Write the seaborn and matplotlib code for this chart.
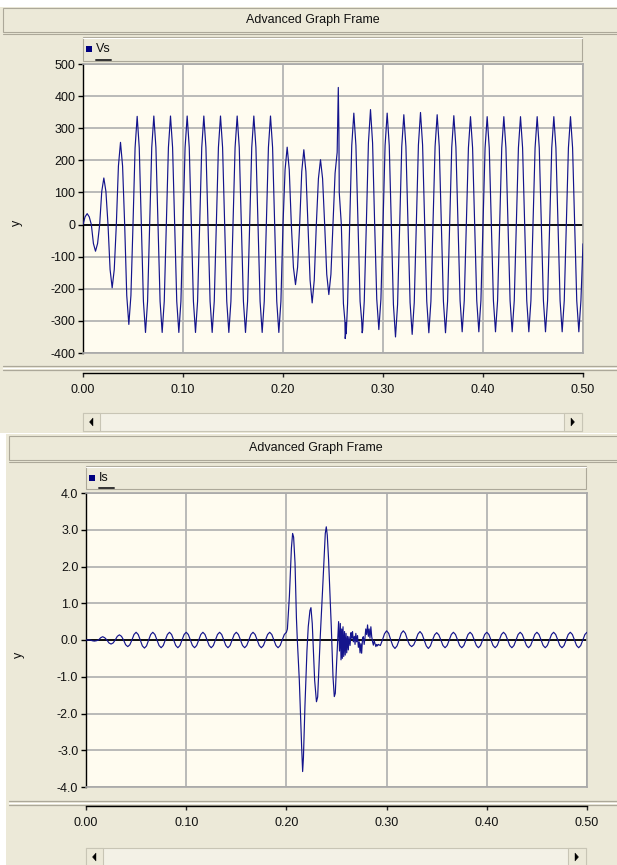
import numpy as np
import pandas as pd
import matplotlib
matplotlib.use("Agg")
import matplotlib.pyplot as plt
import seaborn as sns
from matplotlib.patches import Rectangle, Polygon
from matplotlib.lines import Line2D
from matplotlib import font_manager

# ---------------- data ----------------
SAMPLE_DT = 1 / 480.0          # eighth of a 60 Hz period

# Vs: samples on a regular 1/480 s grid, t = 0 ... 0.5 s
vs_grid = [
    0, 24, 34, 24,
    0, -59, -83, -59,
    0, 103, 145, 103,
    0, -140, -197, -140,
    0, 182, 256, 182,
    0, -221, -311, -221,
    0, 239, 337, 239,
    0, -239, -336, -239,
    0, 240, 338, 240,
    0, -239, -336, -239,
    0, 240, 338, 240,
    0, -239, -336, -239,
    0, 240, 338, 240,
    0, -239, -336, -239,
    0, 240, 338, 240,
    0, -239, -336, -239,
    0, 240, 338, 240,
    0, -239, -336, -239,
    0, 240, 338, 240,
    0, -239, -336, -239,
    0, 240, 338, 240,
    0, -239, -336, -239,
    0, 240, 338, 240,
    0, -239, -336, -239,
    0, 171, 241, 171,
    0, -133, -187, -133,
    0, 165, 233, 165,
    0, -173, -244, -173,
    0, 143, 202, 143,
    0, -155, -218, -155,
    0, 160, 225, 100,
    0, -246, -347, -246,
    0, 246, 347, 246,
    0, -239, -337, -239,
    0, 254, 358, 254,
    0, -232, -327, -232,
    0, 246, 347, 246,
    0, -249, -350, -249,
    0, 243, 342, 243,
    0, -243, -342, -243,
    0, 248, 349, 248,
    0, -239, -337, -239,
    0, 243, 342, 243,
    0, -239, -337, -239,
    0, 241, 339, 241,
    0, -237, -334, -237,
    0, 239, 336, 239,
    0, -237, -334, -237,
    0, 239, 336, 239,
    0, -237, -334, -237,
    0, 239, 336, 239,
    0, -237, -334, -237,
    0, 239, 336, 239,
    0, -237, -334, -237,
    0, 239, 336, 239,
    0, -237, -334, -237,
    0, 239, 336, 239,
    0, -237, -334, -237,
    0, 239, 336, 239,
    0, -237, -334, -237,
    -60,
]
# Vs extra points (switching spike and notches)
vs_extra_t = [0.2547, 0.2553, 0.2559, 0.2619, 0.2622, 0.2629, 0.2632, 0.2787, 0.2796]
vs_extra_v = [330, 427, 290, -300, -355, -305, -340, -300, -330]

# Is before the fault: grid samples n = 0 ... 95
is_pre = [
    0, 0, 0, -0.02,
    -0.03, -0.02, 0, 0.06,
    0.09, 0.06, 0, -0.08,
    -0.11, -0.08, 0, 0.10,
    0.14, 0.10, 0, -0.13,
    -0.18, -0.13, 0, 0.15,
    0.21, 0.15, 0, -0.16,
    -0.22, -0.16, 0, 0.15,
    0.21, 0.15, 0, -0.15,
    -0.21, -0.15, 0, 0.15,
    0.21, 0.15, 0, -0.15,
    -0.21, -0.15, 0, 0.15,
    0.21, 0.15, 0, -0.15,
    -0.21, -0.15, 0, 0.15,
    0.21, 0.15, 0, -0.15,
    -0.21, -0.15, 0, 0.15,
    0.21, 0.15, 0, -0.15,
    -0.21, -0.15, 0, 0.15,
    0.21, 0.15, 0, -0.15,
    -0.21, -0.15, 0, 0.15,
    0.21, 0.15, 0, -0.15,
    -0.21, -0.15, 0, 0.15,
    0.21, 0.15, 0, -0.15,
    -0.21, -0.15, 0, 0.15,
]
# Is during the transient (explicit time / value pairs)
is_tr_t = [0.2000, 0.2010, 0.2030, 0.2050, 0.2062, 0.2072, 0.2086, 0.2100, 0.2109, 0.2129,
           0.2152, 0.2162, 0.2170, 0.2185, 0.2205, 0.2218, 0.2235, 0.2245, 0.2258, 0.2282,
           0.2300, 0.2312, 0.2338, 0.2361, 0.2388, 0.2398, 0.2408, 0.2421, 0.2448, 0.2465,
           0.2478, 0.2488, 0.2501, 0.2521, 0.2530, 0.2538, 0.2545, 0.2552, 0.2558, 0.2565,
           0.2572, 0.2580, 0.2587, 0.2595, 0.2602, 0.2610, 0.2618, 0.2625, 0.2635, 0.2645,
           0.2652, 0.2660, 0.2668, 0.2678, 0.2685, 0.2693, 0.2701, 0.2710, 0.2718, 0.2727,
           0.2735, 0.2743, 0.2751, 0.2760, 0.2768, 0.2776, 0.2784, 0.2792, 0.2801, 0.2810,
           0.2818, 0.2826, 0.2834, 0.2843, 0.2851, 0.2860, 0.2868, 0.2876, 0.2884, 0.2893,
           0.2901, 0.2909, 0.2917]
is_tr_v = [0.21, 0.30, 1.20, 2.50, 2.90, 2.80, 2.10, 0.60, 0.00, -1.10,
           -2.90, -3.58, -3.20, -1.80, -0.30, 0.36, 0.80, 0.88, 0.45, -1.10,
           -1.68, -1.55, 0.10, 1.36, 2.90, 3.08, 2.85, 2.18, 0.36, -1.00,
           -1.54, -1.45, -0.63, 0.50, -0.30, 0.45, -0.54, 0.30, -0.50, 0.36,
           -0.45, 0.23, -0.41, 0.18, -0.35, 0.10, -0.27, 0.09, -0.15, 0.20,
           0.05, 0.23, -0.05, 0.10, -0.12, 0.18, -0.05, 0.12, -0.20, -0.05,
           -0.35, -0.10, -0.36, 0.05, 0.09, -0.12, 0.05, 0.30, 0.15, 0.41,
           0.10, 0.30, 0.05, 0.36, 0.10, -0.05, -0.14, -0.02, -0.10, -0.18,
           -0.12, -0.16, -0.12]
# Is after the transient: grid samples n = 141 ... 240
is_post = [
    -0.15, 0, 0.17,
    0.25, 0.18, 0, -0.16,
    -0.23, -0.16, 0, 0.18,
    0.25, 0.18, 0, -0.13,
    -0.18, -0.13, 0, 0.16,
    0.23, 0.16, 0, -0.16,
    -0.23, -0.16, 0, 0.14,
    0.20, 0.14, 0, -0.15,
    -0.21, -0.15, 0, 0.15,
    0.21, 0.15, 0, -0.15,
    -0.21, -0.15, 0, 0.15,
    0.21, 0.15, 0, -0.15,
    -0.21, -0.15, 0, 0.15,
    0.21, 0.15, 0, -0.15,
    -0.21, -0.15, 0, 0.15,
    0.21, 0.15, 0, -0.15,
    -0.21, -0.15, 0, 0.15,
    0.21, 0.15, 0, -0.15,
    -0.21, -0.15, 0, 0.15,
    0.21, 0.15, 0, -0.15,
    -0.21, -0.15, 0, 0.15,
    0.21, 0.15, 0, -0.15,
    -0.21, -0.15, 0, 0.15,
    0.21, 0.15, 0, -0.15,
    -0.21, -0.15, 0, 0.15,
    0.21,
]
IS_POST_START = 141

x_ticks = [0.0, 0.1, 0.2, 0.3, 0.4, 0.5]
vs_yticks = [-400, -300, -200, -100, 0, 100, 200, 300, 400, 500]
is_yticks = [-4.0, -3.0, -2.0, -1.0, 0.0, 1.0, 2.0, 3.0, 4.0]
frame_title = "Advanced Graph Frame"

# ---------------- build tables ----------------
vs_df = pd.concat([
    pd.DataFrame({"t": np.arange(len(vs_grid)) * SAMPLE_DT, "v": vs_grid}),
    pd.DataFrame({"t": vs_extra_t, "v": vs_extra_v}),
]).sort_values("t").reset_index(drop=True)

is_df = pd.concat([
    pd.DataFrame({"t": np.arange(len(is_pre)) * SAMPLE_DT, "v": is_pre}),
    pd.DataFrame({"t": is_tr_t, "v": is_tr_v}),
    pd.DataFrame({"t": (IS_POST_START + np.arange(len(is_post))) * SAMPLE_DT, "v": is_post}),
]).sort_values("t").reset_index(drop=True)

# ---------------- styling ----------------
sns.set_style("white")
names = {f.name for f in font_manager.fontManager.ttflist}
FONT = "Liberation Sans Narrow" if "Liberation Sans Narrow" in names else "Liberation Sans"
plt.rcParams["font.family"] = [FONT, "DejaVu Sans"]
FS = 9.0

PANEL = "#ECE9D8"
PLOT_BG = "#FFFCF0"
GRID = "#B4B4B4"
LINE = "#14148C"
DARK = "#ACA899"

W, H = 617, 865
fig = plt.figure(figsize=(W / 100, H / 100), dpi=100, facecolor="white")


def fx(x):
    return x / W


def fy(y):
    return 1 - y / H


def rect(x0, y0, x1, y1, fc, ec="none", lw=0.8, z=0):
    fig.patches.append(Rectangle((fx(x0), fy(y1)), (x1 - x0) / W, (y1 - y0) / H,
                                 transform=fig.transFigure, fc=fc, ec=ec, lw=lw, zorder=z))


def hline(y, x0, x1, color, lw=0.8, z=1):
    fig.add_artist(Line2D([fx(x0), fx(x1)], [fy(y), fy(y)], transform=fig.transFigure,
                          color=color, lw=lw, zorder=z))


def tri(pts, z=3):
    fig.patches.append(Polygon([(fx(a), fy(b)) for a, b in pts], closed=True,
                               transform=fig.transFigure, fc="black", ec="black", lw=0.3, zorder=z))


def frame(g, df, name, yticks, fmt):
    # panel
    rect(g["px0"], g["py0"], W, g["py1"], PANEL, z=-10)
    # title bar
    rect(g["px0"] + 3, g["ty0"], W + 2, g["ty1"], PANEL, ec=DARK, lw=0.8, z=1)
    hline(g["ty1"] + 2, g["px0"] + 3, W, DARK, 0.8)
    fig.text(fx(g["tcx"]), fy((g["ty0"] + g["ty1"]) / 2), frame_title, ha="center", va="center",
             fontsize=FS, color="#111111", zorder=4)
    # legend bar
    lx0, lx1, ly0, ly1 = g["lx0"], g["lx1"], g["ly0"], g["ly1"]
    rect(lx0, ly0, lx1, ly1, PANEL, ec=DARK, lw=0.8, z=1)
    hline(ly0 + 1, lx0, lx1, "white", 0.8, z=2)
    rect(lx0 + 3, ly0 + 9, lx0 + 9, ly0 + 15, "#000080", z=3)
    fig.text(fx(lx0 + 13), fy(ly0 + 12), name, ha="left", va="center", fontsize=FS,
             color="#111111", zorder=4)
    hline(ly1 - 1.5, lx0 + 13, lx0 + 28, "#333333", 1.4, z=3)

    # main axes
    ax0, ay0, ax1, ay1 = g["ax0"], g["ay0"], g["ax1"], g["ay1"]
    ax = fig.add_axes([fx(ax0), fy(ay1), (ax1 - ax0) / W, (ay1 - ay0) / H])
    ax.set_zorder(5)
    ax.set_facecolor(PLOT_BG)
    sns.lineplot(data=df, x="t", y="v", ax=ax, color=LINE, lw=0.85, estimator=None, sort=True,
                 zorder=3)
    ax.axhline(0, color="black", lw=1.3, zorder=2)
    ax.set_xlim(0, 0.5)
    ax.set_ylim(yticks[0], yticks[-1])
    ax.set_xticks(x_ticks)
    ax.set_yticks(yticks)
    ax.set_yticklabels([fmt.format(v) for v in yticks])
    ax.grid(True, color=GRID, lw=1.3, zorder=1)
    ax.set_axisbelow(True)
    ax.tick_params(axis="x", length=0, labelbottom=False)
    ax.tick_params(axis="y", length=3.5, width=1, color="black", labelsize=FS,
                   labelcolor="#111111", pad=2, left=True)
    for s in ("top", "right", "bottom"):
        ax.spines[s].set_color("#A8A8A8")
        ax.spines[s].set_linewidth(1.2)
    ax.spines["left"].set_color("black")
    ax.spines["left"].set_linewidth(1.0)
    ax.set_xlabel("")
    ax.set_ylabel("")
    fig.text(fx(g["ylx"]), fy(g["yly"]), "y", rotation=90, ha="center", va="center",
             fontsize=FS, color="#111111", zorder=4)

    # separator lines
    hline(g["sep"], g["px0"] + 3, W, DARK, 0.9)
    hline(g["sep"] + 1.5, g["px0"] + 3, W, "white", 0.9)
    hline(g["sep"] + 4, g["px0"] + 3, W, DARK, 0.9)

    # ruler axis (line with ticks hanging below, labels under it)
    rh = 4.0
    rx = fig.add_axes([fx(ax0), fy(g["ruler"] + rh), (ax1 - ax0) / W, rh / H])
    rx.set_zorder(5)
    rx.set_facecolor("none")
    rx.set_xlim(0, 0.5)
    rx.set_ylim(0, 1)
    rx.set_yticks([])
    rx.set_xticks(x_ticks)
    rx.set_xticklabels(["{:.2f}".format(v) for v in x_ticks])
    for s in ("bottom", "right", "left"):
        rx.spines[s].set_visible(False)
    rx.spines["top"].set_color("black")
    rx.spines["top"].set_linewidth(1.0)
    rx.tick_params(axis="x", direction="in", length=rh * 0.72, width=1, top=True, bottom=False,
                   labeltop=False, labelbottom=True, labelsize=FS, labelcolor="#111111", pad=5)

    # scrollbar
    sy0, sy1 = g["sy0"], g["sy1"]
    sx0, sx1 = g["sx0"], g["sx1"]
    rect(sx0, sy0, sx1, sy1, "#F3F1E6", ec="#C8C5B5", lw=0.8, z=1)
    rect(sx0, sy0, sx0 + 17, sy1, PANEL, ec="#C8C5B5", lw=0.8, z=2)
    rect(sx1 - 18, sy0, sx1, sy1, PANEL, ec="#C8C5B5", lw=0.8, z=2)
    cy = (sy0 + sy1) / 2
    if sy1 > H:
        cy = sy0 + 9
    tri([(sx0 + 6.5, cy), (sx0 + 10, cy - 4), (sx0 + 10, cy + 4)])
    tri([(sx1 - 11, cy - 4), (sx1 - 11, cy + 4), (sx1 - 7.5, cy)])
    return ax


top = dict(px0=0, py0=7, py1=433, ty0=8, ty1=32, tcx=313,
           lx0=83, lx1=582, ly0=37, ly1=61,
           ax0=83, ay0=64, ax1=583, ay1=353, ylx=17, yly=223,
           sep=366, ruler=373, sx0=83, sx1=582, sy0=413, sy1=431)
bot = dict(px0=6, py0=434, py1=868, ty0=436, ty1=460, tcx=316,
           lx0=86, lx1=586, ly0=466, ly1=489,
           ax0=86, ay0=493, ax1=587, ay1=787, ylx=19, yly=655,
           sep=801, ruler=806, sx0=86, sx1=586, sy0=848, sy1=868)

frame(top, vs_df, "Vs", vs_yticks, "{:.0f}")
frame(bot, is_df, "Is", is_yticks, "{:.1f}")

fig.savefig("out.png", dpi=100, facecolor="white")
